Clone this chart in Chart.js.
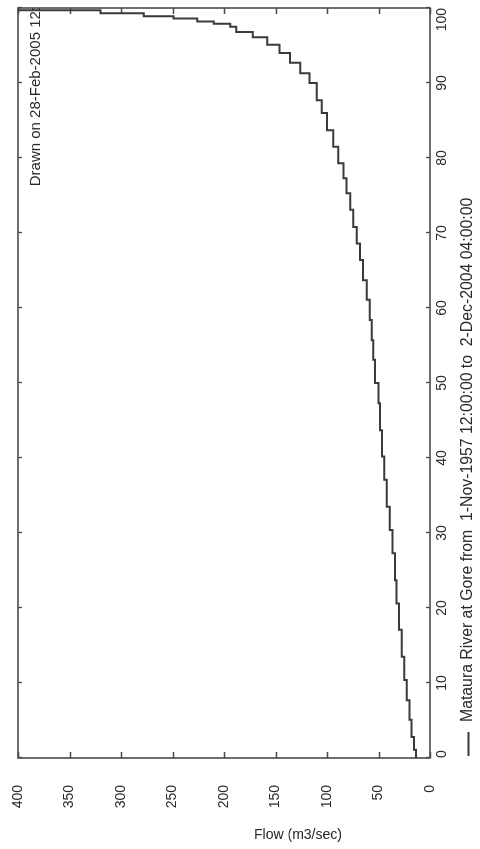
<!DOCTYPE html>
<html>
<head>
<meta charset="utf-8">
<script src="https://cdn.jsdelivr.net/npm/chart.js@4.4.1/dist/chart.umd.min.js"></script>
<style>
html,body{margin:0;padding:0;background:#fff;width:480px;height:849px;overflow:hidden;}
#wrap{position:absolute;left:0;top:0;width:849px;height:480px;transform-origin:0 0;transform:translateY(849px) rotate(-90deg);}
canvas{display:block;}
</style>
</head>
<body>
<div id="wrap"><canvas id="c" width="849" height="480"></canvas></div>
<script>
// ---- data ----
const percentTicks = [0,10,20,30,40,50,60,70,80,90,100];
const flowTicks = [0,50,100,150,200,250,300,350,400];
const percentValues = [0,1.1,2.8,5.1,7.7,10.4,13.5,17.1,20.6,23.7,27.3,30.4,33.5,37.1,40.2,43.7,47.3,50.0,53.1,55.7,58.4,61.1,63.7,66.4,68.6,70.8,73.1,75.3,77.3,79.3,81.5,83.7,86.0,87.7,90.0,91.3,92.7,94.0,95.1,96.1,96.8,97.5,97.9,98.2,98.6,98.9,99.3,99.7,99.7];
const flowValues    = [12,13.5,15.5,18,20,22.5,25,27.5,30,32.5,34,36.5,39,42,44.5,46.5,48.5,50,53.5,55,56.5,58.5,61.5,65,68,71,74.5,77.5,81,84,89,94,100,105,110,117,126,136,146,158,172,188,194,210,226,249,278,320,440];
const seriesLabel = 'Mataura River at Gore from  1-Nov-1957 12:00:00 to  2-Dec-2004 04:00:00';
const drawnOnText = 'Drawn on 28-Feb-2005 12:';
const flowAxisTitle = 'Flow (m3/sec)';

const FONT = "'Liberation Sans', Arial, Helvetica, sans-serif";
const TEXT = '#2a2a2a';
const LINE = '#3a3a3a';
const FRAME = '#4a4a4a';

const framePlugin = {
  id: 'frame',
  beforeDatasetsDraw(chart) {
    const {ctx, chartArea: a, scales: {x, y}} = chart;
    ctx.save();
    ctx.strokeStyle = FRAME;
    ctx.lineWidth = 1.6;
    ctx.strokeRect(a.left, a.top, a.right - a.left, a.bottom - a.top);
    ctx.lineWidth = 1.3;
    ctx.beginPath();
    y.ticks.forEach(t => {
      const py = Math.round(y.getPixelForValue(t.value)) + 0.5;
      ctx.moveTo(a.left, py); ctx.lineTo(a.left + 6, py);
      ctx.moveTo(a.right, py); ctx.lineTo(a.right - 6, py);
    });
    x.ticks.forEach(t => {
      const px = Math.round(x.getPixelForValue(t.value)) + 0.5;
      ctx.moveTo(px, a.bottom); ctx.lineTo(px, a.bottom - 4);
      ctx.moveTo(px, a.top); ctx.lineTo(px, a.top + 4);
    });
    ctx.stroke();
    ctx.restore();
  },
  afterDraw(chart) {
    const {ctx, chartArea: a} = chart;
    // "Drawn on" note, clipped at the plot edge
    ctx.save();
    ctx.beginPath();
    ctx.rect(a.left, a.top, a.right - a.left, a.bottom - a.top);
    ctx.clip();
    ctx.fillStyle = TEXT;
    ctx.font = '15px ' + FONT;
    ctx.textAlign = 'right';
    ctx.textBaseline = 'middle';
    ctx.fillText(drawnOnText, a.right + 1, a.top + 18);
    ctx.restore();

    // legend
    ctx.save();
    ctx.strokeStyle = LINE;
    ctx.lineWidth = 2;
    ctx.beginPath();
    ctx.moveTo(93, 468.5); ctx.lineTo(117, 468.5);
    ctx.stroke();
    ctx.fillStyle = TEXT;
    ctx.font = '15.8px ' + FONT;
    ctx.textAlign = 'left';
    ctx.textBaseline = 'middle';
    ctx.fillText(chart.data.datasets[0].label, 127, 468);
    ctx.restore();

    // flow axis title (upright on the page)
    ctx.save();
    ctx.translate(14, 298);
    ctx.rotate(Math.PI / 2);
    ctx.fillStyle = TEXT;
    ctx.font = '14px ' + FONT;
    ctx.textAlign = 'center';
    ctx.textBaseline = 'middle';
    ctx.fillText(flowAxisTitle, 0, 0);
    ctx.restore();
  }
};

const points = percentValues.map((p, i) => ({x: p, y: flowValues[i]}));

new Chart(document.getElementById('c'), {
  type: 'line',
  data: {
    datasets: [{
      label: seriesLabel,
      data: points,
      borderColor: LINE,
      borderWidth: 2,
      pointRadius: 0,
      stepped: 'after',
      fill: false,
      tension: 0
    }]
  },
  options: {
    responsive: false,
    animation: false,
    events: [],
    layout: {padding: {top: 18, right: 8, left: 0, bottom: 0}, autoPadding: false},
    plugins: {legend: {display: false}, tooltip: {enabled: false}, title: {display: false}},
    scales: {
      x: {
        type: 'linear', min: 0, max: 100, position: 'bottom',
        afterBuildTicks(s) { s.ticks = percentTicks.map(v => ({value: v})); },
        grid: {display: false, drawTicks: false},
        border: {display: false},
        ticks: {padding: 4, maxRotation: 0, minRotation: 0, autoSkip: false, align: 'inner', color: TEXT, font: {family: FONT, size: 14}},
        afterFit(s) { s.height = 50; s.paddingLeft = 0; s.paddingRight = 0; }
      },
      y: {
        type: 'linear', min: 0, max: 400, position: 'left',
        afterBuildTicks(s) { s.ticks = flowTicks.map(v => ({value: v})); },
        grid: {display: false, drawTicks: false},
        border: {display: false},
        ticks: {padding: 27, autoSkip: false, color: TEXT, font: {family: FONT, size: 14}},
        afterFit(s) { s.width = 91; s.paddingTop = 0; s.paddingBottom = 0; }
      }
    }
  },
  plugins: [framePlugin]
});
</script>
</body>
</html>
